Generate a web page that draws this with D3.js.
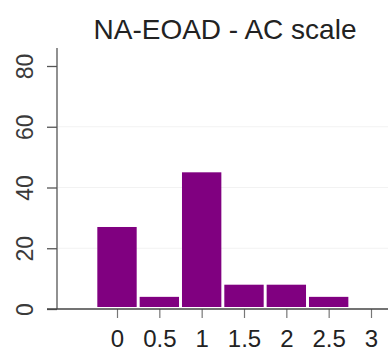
<!DOCTYPE html>
<html>
<head>
<meta charset="utf-8">
<script src="https://cdn.jsdelivr.net/npm/d3@7"></script>
<style>
  body { margin: 0; background: #fff; }
  svg { display: block; font-family: "Liberation Sans", Arial, sans-serif; }
</style>
</head>
<body>
<svg width="388" height="356"></svg>
<script>
var categories = [0, 0.5, 1, 1.5, 2, 2.5, 3];
var values = [27, 4, 45, 8, 8, 4, 0];
var xTicks = [0, 0.5, 1, 1.5, 2, 2.5, 3];
var yTicks = [0, 20, 40, 60, 80];
var title = "NA-EOAD - AC scale";

var svg = d3.select("svg"),
    width = +svg.attr("width"),
    height = +svg.attr("height");

var xScale = d3.scaleLinear().domain([0, 3]).range([117, 371]),
    yScale = d3.scaleLinear().domain([0, 80]).range([309, 66]);

var barW = 0.465 * (xScale(1) - xScale(0));

// faint grid
svg.append("g").selectAll("line")
    .data(yTicks.filter(function(d) { return d > 0 && d < 80; }))
    .enter().append("line")
    .attr("x1", 58).attr("x2", width)
    .attr("y1", function(d) { return yScale(d); })
    .attr("y2", function(d) { return yScale(d); })
    .attr("stroke", "#f2f2f2");

// bars
svg.append("g").selectAll("rect")
    .data(categories.map(function(c, i) { return {c: c, v: values[i]}; }).filter(function(d) { return d.v > 0; }))
    .enter().append("rect")
    .attr("x", function(d) { return xScale(d.c) - barW / 2; })
    .attr("width", barW)
    .attr("y", function(d) { return yScale(d.v); })
    .attr("height", function(d) { return yScale(0) - 2 - yScale(d.v); })
    .attr("fill", "#800080");

// y axis
var yAxis = svg.append("g")
    .attr("transform", "translate(57,0)")
    .call(d3.axisLeft(yScale).tickValues(yTicks).tickSize(10).tickPadding(0));
yAxis.select(".domain").remove();
yAxis.selectAll(".tick line").attr("stroke", "#555").attr("stroke-width", 1.3);
yAxis.selectAll(".tick text")
    .attr("x", null).attr("dy", null)
    .attr("transform", "translate(-24,0) rotate(-90)")
    .attr("text-anchor", "middle")
    .attr("font-size", 23)
    .attr("fill", "#3a3a3a");
svg.append("line")
    .attr("x1", 57).attr("x2", 57)
    .attr("y1", 48).attr("y2", yScale(0))
    .attr("stroke", "#555").attr("stroke-width", 1.3);

// x axis
var xAxis = svg.append("g")
    .attr("transform", "translate(0," + yScale(0) + ")")
    .call(d3.axisBottom(xScale).tickValues(xTicks).tickSize(9).tickPadding(12)
        .tickFormat(function(d) { return String(d); }));
xAxis.select(".domain").remove();
xAxis.selectAll(".tick line").attr("stroke", "#777").attr("stroke-width", 1.2);
xAxis.selectAll(".tick text")
    .attr("font-size", 24)
    .attr("fill", "#222");
svg.append("line")
    .attr("x1", 47).attr("x2", width)
    .attr("y1", yScale(0)).attr("y2", yScale(0))
    .attr("stroke", "#444").attr("stroke-width", 1.5);

// title
svg.append("text")
    .attr("x", 225).attr("y", 39)
    .attr("text-anchor", "middle")
    .attr("font-size", 28)
    .attr("fill", "#222")
    .text(title);
</script>
</body>
</html>
